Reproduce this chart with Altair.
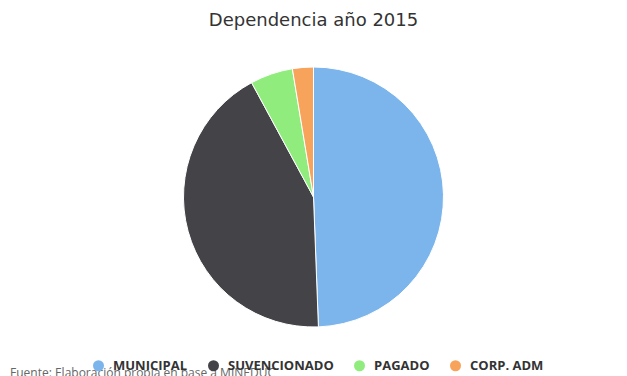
import altair as alt
import pandas as pd

categories = ["MUNICIPAL", "SUVENCIONADO", "PAGADO", "CORP. ADM"]
values = [93870, 81150, 10070, 4940]
colors = ["#7cb5ec", "#434348", "#90ed7d", "#f7a35c"]
title_lines = ["Matrículas Región de Libertador Bernardo O´Higgins por", "Dependencia año 2015"]
source_text = "Fuente: Elaboración propia en base a MINEDUC"

df = pd.DataFrame({"Dependencia": categories, "Matricula": values, "orden": list(range(len(categories)))})

W, H = 611, 378

pie = alt.Chart(df).mark_arc(outerRadius=130, stroke="white", strokeWidth=1).encode(
    theta=alt.Theta("Matricula:Q", stack=True),
    order=alt.Order("orden:Q", sort="ascending"),
    color=alt.Color(
        "Dependencia:N",
        scale=alt.Scale(domain=categories, range=colors),
        sort=categories,
        legend=alt.Legend(
            title=None,
            orient="none",
            direction="horizontal",
            legendX=84,
            legendY=351,
            symbolType="circle",
            symbolSize=121,
            symbolStrokeWidth=0,
            labelFont="Open Sans",
            labelFontSize=13,
            labelFontWeight="bold",
            labelColor="#333333",
            labelOffset=8,
            columnPadding=19,
            padding=0,
        ),
    ),
    tooltip=["Dependencia:N", "Matricula:Q"],
)

title = alt.Chart(pd.DataFrame({"t": ["\n".join(title_lines)]})).mark_text(
    font="DejaVu Sans", fontSize=18, color="#333333", align="center",
    baseline="alphabetic", lineBreak="\n", lineHeight=22,
).encode(text="t:N", x=alt.value(W / 2), y=alt.value(-4))

source = alt.Chart(pd.DataFrame({"s": [source_text]})).mark_text(
    font="Open Sans", fontSize=12, color="#666666", align="left", baseline="alphabetic",
).encode(text="s:N", x=alt.value(2), y=alt.value(369))

chart = alt.layer(pie, title, source).properties(
    width=W, height=H,
    autosize=alt.AutoSizeParams(type="none"),
    padding=0,
).configure_view(stroke=None)

chart.save("out.html", embed_options={"renderer": "svg", "actions": False})
